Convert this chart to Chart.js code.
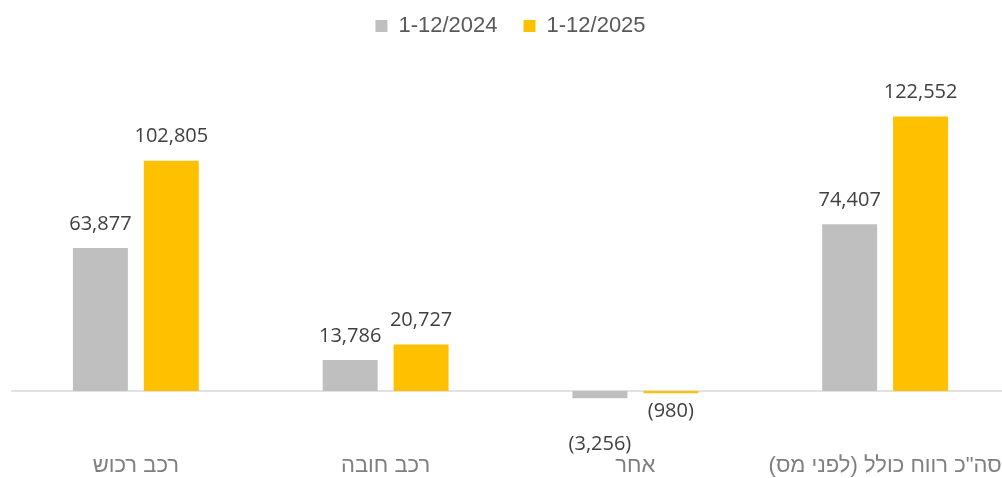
<!DOCTYPE html>
<html>
<head>
<meta charset="utf-8">
<script src="https://cdn.jsdelivr.net/npm/chart.js@4"></script>
<style>
  html, body { margin: 0; padding: 0; background: #fff; overflow: hidden; }
  canvas { display: block; }
</style>
</head>
<body>
<canvas id="myChart" width="1012" height="478"></canvas>
<script>
var categories = ['רכב רכוש', 'רכב חובה', 'אחר', 'סה"כ רווח כולל (לפני מס)'];
var seriesNames = ['1-12/2024', '1-12/2025'];
var values2024 = [63877, 13786, -3256, 74407];
var values2025 = [102805, 20727, -980, 122552];
var seriesColors = ['#BFBFBF', '#FFC000'];

// extra push down for a label that sits lower in the original
var labelNudge = { '0-2': 28 };

var zeroLine = {
  id: 'zeroLine',
  beforeDatasetsDraw: function(chart) {
    var ctx = chart.ctx, area = chart.chartArea;
    var y = chart.scales.y.getPixelForValue(0);
    ctx.save();
    ctx.strokeStyle = '#D9D9D9';
    ctx.lineWidth = 1.5;
    ctx.beginPath();
    ctx.moveTo(area.left, y);
    ctx.lineTo(area.right, y);
    ctx.stroke();
    ctx.restore();
  }
};

var valueLabels = {
  id: 'valueLabels',
  afterDatasetsDraw: function(chart) {
    var ctx = chart.ctx;
    ctx.save();
    ctx.font = '20px "Open Sans"';
    ctx.fillStyle = '#404040';
    ctx.textAlign = 'center';
    ctx.textBaseline = 'middle';
    chart.data.datasets.forEach(function(ds, i) {
      chart.getDatasetMeta(i).data.forEach(function(bar, j) {
        var v = ds.data[j];
        var txt = Math.abs(v).toLocaleString('en-US');
        if (v < 0) txt = '(' + txt + ')';
        var y = v < 0 ? bar.y + 18 + (labelNudge[i + '-' + j] || 0) : bar.y - 24;
        ctx.fillText(txt, bar.x, y);
      });
    });
    ctx.restore();
  }
};

var ctx = document.getElementById('myChart').getContext('2d');
var myChart = new Chart(ctx, {
  type: 'bar',
  data: {
    labels: categories,
    datasets: [{
      label: seriesNames[0],
      data: values2024,
      backgroundColor: seriesColors[0]
    }, {
      label: seriesNames[1],
      data: values2025,
      backgroundColor: seriesColors[1]
    }]
  },
  options: {
    responsive: false,
    animation: false,
    devicePixelRatio: 1,
    layout: { padding: { left: 11, right: 2, top: -11, bottom: -1 } },
    datasets: {
      bar: { categoryPercentage: 0.568, barPercentage: 0.775 }
    },
    scales: {
      x: {
        grid: { display: false, drawTicks: false },
        border: { display: false },
        ticks: {
          padding: 0,
          color: '#7F7F7F',
          font: { family: '"Liberation Sans", Arial', size: 22 },
          callback: function(v) { return categories[v] + '\u200F'; }
        }
      },
      y: {
        display: false,
        min: -27500,
        max: 153580
      }
    },
    plugins: {
      legend: {
        position: 'top',
        labels: {
          boxWidth: 12,
          boxHeight: 12,
          padding: 26,
          color: '#595959',
          font: { family: '"Liberation Sans", Arial', size: 22 }
        }
      },
      tooltip: { enabled: false }
    }
  },
  plugins: [zeroLine, valueLabels]
});
</script>
</body>
</html>
